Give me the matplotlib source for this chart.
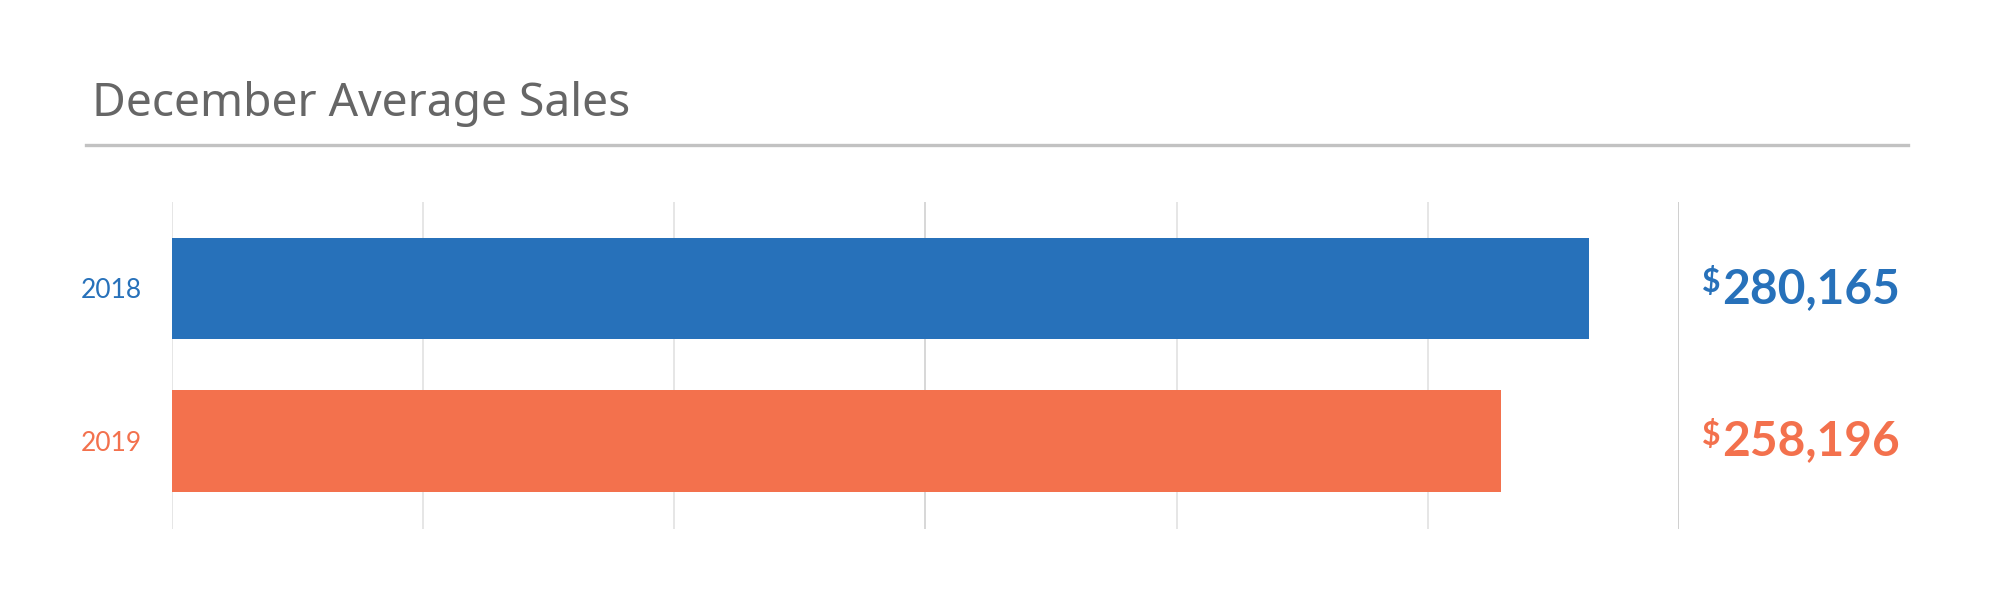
import matplotlib
matplotlib.use("Agg")
import matplotlib.pyplot as plt
import matplotlib.transforms as mtransforms
from matplotlib.lines import Line2D

# ---- data ----
years = ["2018", "2019"]
bar_values = [282100, 264600]          # bar lengths as drawn in the picture
label_values = [280165, 258196]        # printed totals
colors = ["#2771ba", "#f3714d"]
x_ticks = [0, 50000, 100000, 150000, 200000, 250000, 300000]
title = "December Average Sales"

W, H = 2000, 592
fig = plt.figure(figsize=(W / 100, H / 100), dpi=100)
fig.patch.set_facecolor("white")

left, right, top, bottom = 172, 1679, 202, 529
ax = fig.add_axes([left / W, (H - bottom) / H, (right - left) / W, (bottom - top) / H])

ypos = list(range(len(years)))
ax.barh(ypos, bar_values, height=0.666, color=colors, zorder=2)

ax.set_xlim(x_ticks[0], x_ticks[-1])
ax.set_ylim(1.578, -0.567)
ax.set_xticks(x_ticks)
ax.tick_params(axis="x", length=0, labelbottom=False)
for i, xv in enumerate(x_ticks):
    c = "#e4e4e4"
    lw = 1.3
    if i == len(x_ticks) - 1:
        c = "#cccccc"
    elif i == 3:
        c = "#d4d4d4"
    ax.axvline(xv, color=c, lw=lw, zorder=1)

ax.set_yticks(ypos)
ax.set_yticklabels(years, fontsize=19, family="Lato")
ax.tick_params(axis="y", length=0, pad=22)
for lbl, c in zip(ax.get_yticklabels(), colors):
    lbl.set_color(c)
for s in ax.spines.values():
    s.set_visible(False)
ax.set_facecolor("none")

# value labels to the right of the plot
trans = mtransforms.blended_transform_factory(fig.transFigure, ax.transData)
for i, (v, c) in enumerate(zip(label_values, colors)):
    ax.text(1702 / W, i + 0.025, r"\$", transform=trans, ha="left", va="baseline",
            fontsize=23, fontweight="bold", family="Lato", color=c, clip_on=False)
    ax.text(1722 / W, i + 0.093, f"{v:,}", transform=trans, ha="left", va="baseline",
            fontsize=34.5, fontweight="bold", family="Lato", color=c, clip_on=False)

# title and separator
fig.text(92 / W, (H - 116) / H, title, ha="left", va="baseline",
         fontsize=33.3, family="Noto Sans", fontweight="medium", color="#666666")
fig.add_artist(Line2D([86 / W, 1908 / W], [(H - 145) / H] * 2, color="#c2c2c2",
                      lw=2.4, transform=fig.transFigure))

fig.savefig("out.png", dpi=100, facecolor="white")
